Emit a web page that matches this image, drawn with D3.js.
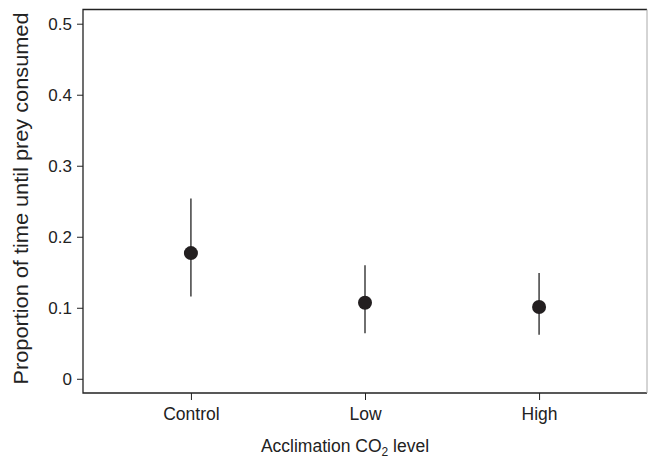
<!DOCTYPE html>
<html>
<head>
<meta charset="utf-8">
<script src="https://cdn.jsdelivr.net/npm/d3@7"></script>
<style>
  body { margin: 0; background: #fff; }
  text { font-family: "Liberation Sans", Arial, sans-serif; fill: #222; }
</style>
</head>
<body>
<div id="chart"></div>
<script>
// Data
const categories = ["Control", "Low", "High"];
const means = [0.177, 0.107, 0.101];
const lower = [0.116, 0.064, 0.062];
const upper = [0.254, 0.160, 0.149];
const yTicks = [0, 0.1, 0.2, 0.3, 0.4, 0.5];

const W = 648, H = 459;
const plot = {left: 83, right: 647, top: 9.5, bottom: 393};

const svg = d3.select("#chart")
    .append("svg")
    .attr("width", W)
    .attr("height", H);

// scales (R-style 4% padding around 0.5..3.5 and 0..0.5)
const x = d3.scaleLinear()
    .domain([0.38, 3.62])
    .range([plot.left, plot.right]);

const y = d3.scaleLinear()
    .domain([-0.02, 0.52])
    .range([plot.bottom, plot.top]);

// box: left, top, bottom dark, right edge fainter (cropped in the original)
svg.append("path")
    .attr("d", `M${plot.right},${plot.top}H${plot.left}V${plot.bottom}H${plot.right}`)
    .attr("fill", "none")
    .attr("stroke", "#222")
    .attr("stroke-width", 1.3);
svg.append("line")
    .attr("x1", plot.right).attr("x2", plot.right)
    .attr("y1", plot.top).attr("y2", plot.bottom)
    .attr("stroke", "#aaa")
    .attr("stroke-width", 1);

// y axis
const yAxis = svg.append("g")
    .attr("transform", `translate(${plot.left},0)`)
    .call(d3.axisLeft(y).tickValues(yTicks)
        .tickFormat(d => d === 0 ? "0" : d3.format(".1f")(d))
        .tickSize(6).tickPadding(5));
yAxis.select(".domain").remove();
yAxis.selectAll("line").attr("stroke", "#222");
yAxis.selectAll("text").attr("font-size", 17).attr("font-family", null);

// x axis
const xAxis = svg.append("g")
    .attr("transform", `translate(0,${plot.bottom})`)
    .call(d3.axisBottom(x).tickValues([1, 2, 3])
        .tickFormat(d => categories[d - 1])
        .tickSize(7).tickPadding(8));
xAxis.select(".domain").remove();
xAxis.selectAll("line").attr("stroke", "#222");
xAxis.selectAll("text").attr("font-size", 17.5).attr("font-family", null);

// error bars
svg.selectAll(".err")
    .data(categories)
    .enter()
    .append("line")
    .attr("class", "err")
    .attr("x1", (d, i) => x(i + 1))
    .attr("x2", (d, i) => x(i + 1))
    .attr("y1", (d, i) => y(lower[i]))
    .attr("y2", (d, i) => y(upper[i]))
    .attr("stroke", "#222")
    .attr("stroke-width", 1.3);

// points
svg.selectAll(".pt")
    .data(categories)
    .enter()
    .append("circle")
    .attr("class", "pt")
    .attr("cx", (d, i) => x(i + 1))
    .attr("cy", (d, i) => y(means[i]))
    .attr("r", 7)
    .attr("fill", "#231f20");

// axis titles
const xt = svg.append("text")
    .attr("x", 345)
    .attr("y", 452)
    .attr("text-anchor", "middle")
    .attr("font-size", 17.5);
xt.append("tspan").text("Acclimation CO");
xt.append("tspan").attr("font-size", 12).attr("dy", 4).text("2");
xt.append("tspan").attr("dy", -4).text(" level");

svg.append("text")
    .attr("transform", "translate(28,198.5) rotate(-90)")
    .attr("text-anchor", "middle")
    .attr("font-size", 19.5)
    .attr("textLength", 372)
    .attr("lengthAdjust", "spacingAndGlyphs")
    .text("Proportion of time until prey consumed");
</script>
</body>
</html>
